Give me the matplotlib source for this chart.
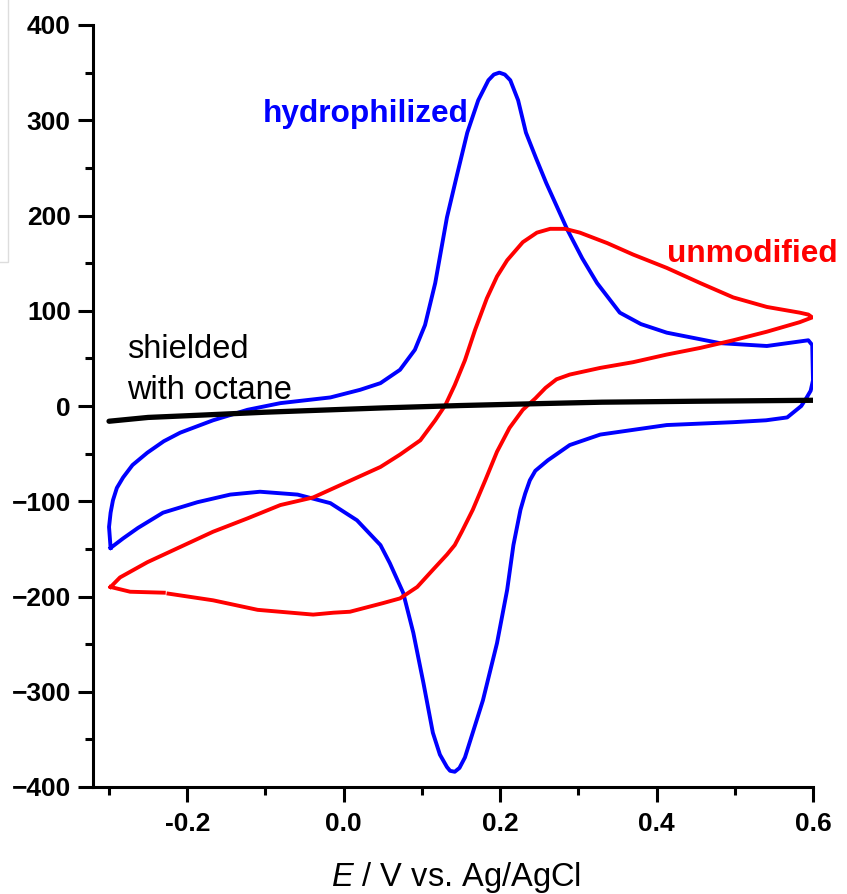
import numpy as np
import matplotlib
matplotlib.use("Agg")
import matplotlib.pyplot as plt
from matplotlib.patches import Rectangle
from matplotlib.ticker import MultipleLocator

plt.rcParams['font.family'] = ['Liberation Sans', 'DejaVu Sans']
plt.rcParams['mathtext.fontset'] = 'custom'
plt.rcParams['mathtext.it'] = 'Liberation Sans:italic'
plt.rcParams['mathtext.rm'] = 'Liberation Sans'

# hydrophilized electrode (closed CV loop)
hyd_E = [-0.298, -0.300, -0.298, -0.295, -0.290, -0.282, -0.270, -0.251, -0.230, -0.209,
         -0.167, -0.123, -0.081, -0.017, 0.021, 0.047, 0.072, 0.091, 0.104, 0.117,
         0.132, 0.145, 0.158, 0.172, 0.185, 0.192, 0.199, 0.206, 0.213, 0.223,
         0.233, 0.246, 0.259, 0.286, 0.305, 0.324, 0.353, 0.380, 0.413, 0.481,
         0.541, 0.594, 0.599, 0.600, 0.597, 0.592, 0.585, 0.567, 0.540, 0.498,
         0.413, 0.328, 0.289, 0.261, 0.245, 0.238, 0.232, 0.226, 0.217, 0.209,
         0.196, 0.178, 0.165, 0.155, 0.148, 0.142, 0.136, 0.132, 0.123, 0.114,
         0.102, 0.089, 0.076, 0.059, 0.047, 0.017, -0.017, -0.059, -0.107, -0.145,
         -0.187, -0.231, -0.263, -0.282, -0.298]
hyd_I = [-149, -127, -112, -99, -86, -75, -62, -49, -37, -28,
         -15, -4, 3, 9, 17, 24, 38, 59, 85, 129,
         198, 243, 287, 321, 342, 348, 350, 348, 342, 321,
         287, 260, 234, 185, 155, 129, 98, 86, 77, 66,
         63, 69, 64, 27, 16, 9, 0, -12, -15, -17,
         -20, -30, -41, -57, -68, -78, -92, -109, -146, -193,
         -249, -309, -343, -369, -380, -384, -383, -379, -366, -343,
         -291, -238, -196, -165, -146, -120, -102, -93, -90, -93,
         -101, -112, -128, -139, -149]

# unmodified electrode (NaN marks a gap in the recorded trace)
unm_E = [-0.298, -0.286, -0.251, -0.209, -0.167, -0.123, -0.081, -0.039, 0.004, 0.047,
         0.072, 0.098, 0.117, 0.130, 0.142, 0.155, 0.168, 0.183, 0.196, 0.209,
         0.229, 0.247, 0.264, 0.283, 0.302, 0.337, 0.370, 0.413, 0.456, 0.498,
         0.541, 0.583, 0.594, 0.599, 0.583, 0.541, 0.498, 0.456, 0.413, 0.370,
         0.328, 0.289, 0.272, 0.258, 0.245, 0.229, 0.212, 0.196, 0.181, 0.165,
         0.151, 0.142, 0.132, 0.114, 0.094, 0.072, 0.050, 0.008, -0.013, -0.039,
         -0.110, -0.167, -0.224, np.nan, -0.230, -0.273, -0.298]
unm_I = [-190, -180, -164, -148, -132, -118, -104, -96, -80, -64,
         -51, -36, -15, 1, 22, 48, 80, 113, 136, 153,
         172, 182, 186, 186, 182, 171, 159, 145, 129, 114,
         104, 98, 96, 93, 88, 78, 69, 61, 54, 46,
         40, 33, 28, 19, 8, -4, -23, -48, -78, -109,
         -132, -146, -156, -172, -190, -202, -207, -216, -217, -219,
         -214, -204, -197, np.nan, -196, -195, -190]

# shielded with octane
oct_E = [-0.300, -0.250, -0.180, -0.100, 0.000, 0.050, 0.150, 0.250, 0.330, 0.450, 0.600]
oct_I = [-16, -12, -9.5, -6.5, -3.5, -2, 0.5, 2.5, 4, 5, 6]

W, H = 847, 894
fig = plt.figure(figsize=(W / 100, H / 100), dpi=100)
ax = fig.add_axes([93 / W, (H - 787) / H, (813 - 93) / W, (787 - 25) / H])

ax.plot(hyd_E, hyd_I, color="#0000ff", lw=2.8, solid_joinstyle="round")
ax.plot(unm_E, unm_I, color="#ff0000", lw=2.8, solid_joinstyle="round")
ax.plot(oct_E, oct_I, color="black", lw=3.8, solid_capstyle="round")

ax.set_xlim(-0.3205, 0.6)
ax.set_ylim(-400, 400)

ax.xaxis.set_minor_locator(MultipleLocator(0.1))
ax.yaxis.set_major_locator(MultipleLocator(100))
ax.yaxis.set_minor_locator(MultipleLocator(50))
ax.set_xticks([-0.2, 0.0, 0.2, 0.4, 0.6])
ax.set_xticklabels(["-0.2", "0.0", "0.2", "0.4", "0.6"])

for side in ["top", "right"]:
    ax.spines[side].set_visible(False)
for side in ["left", "bottom"]:
    ax.spines[side].set_linewidth(2.2)

ax.tick_params(which="major", direction="out", length=11, width=2.2, labelsize=19)
ax.tick_params(which="minor", direction="out", length=5.8, width=2.2)
ax.tick_params(axis="x", which="major", pad=7)
ax.tick_params(axis="y", which="major", pad=5)
for lab in ax.get_xticklabels() + ax.get_yticklabels():
    lab.set_fontweight("bold")

ax.set_xlabel(r"$E$ / V vs. Ag/AgCl", fontsize=23.5, va="baseline")
ax.xaxis.set_label_coords((456 - 93) / (813 - 93), (787 - 886) / (787 - 25))

ax.text(-0.104, 298, "hydrophilized", color="#0000ff", fontsize=22.8,
        fontweight="bold", va="baseline", ha="left")
ax.text(0.413, 151, "unmodified", color="#ff0000", fontsize=22.8,
        fontweight="bold", va="baseline", ha="left")
ax.text(-0.277, 50, "shielded", color="black", fontsize=23.5, va="baseline", ha="left")
ax.text(-0.277, 7, "with octane", color="black", fontsize=23.5, va="baseline", ha="left")

# faint frame left over at the top-left edge of the original
fig.patches.append(Rectangle((-0.01, (H - 262) / H), 0.01 + 8 / W, 0.4,
                             transform=fig.transFigure, fill=False,
                             edgecolor="#dddddd", lw=1))

fig.savefig("out.png", dpi=100)
